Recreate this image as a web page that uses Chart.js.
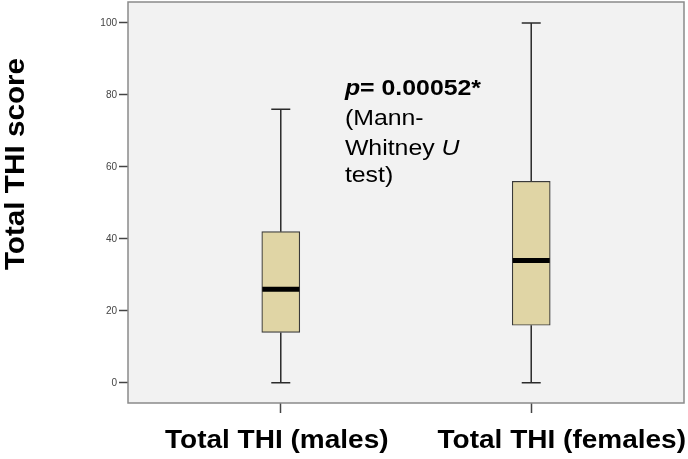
<!doctype html>
<html lang="en">
  <head>
    <meta charset="utf-8">
    <title>Total THI score</title>
    <style>
      * { margin: 0; padding: 0; }
      body { background: #fff; }
      .chartBox { width: 688px; height: 459px; }
    </style>
  </head>
  <body>
    <div class="chartBox">
      <canvas id="myChart"></canvas>
    </div>
    <script src="https://cdn.jsdelivr.net/npm/chart.js/dist/chart.umd.min.js"></script>
    <script>
    // data
    const categories = ['Total THI (males)', 'Total THI (females)'];
    const catPos = [0, 1];
    const mins = [0, 0];
    const q1s = [14, 16];
    const medians = [26, 34];
    const q3s = [42, 56];
    const maxes = [76, 100];
    const yTicks = [0, 20, 40, 60, 80, 100];

    const FONT = "'Liberation Sans', Arial, sans-serif";

    // text drawn a bit wider, like the source image
    const stretchText = (ctx, text, x, y, sx) => {
      ctx.save();
      ctx.translate(x, y);
      ctx.scale(sx, 1);
      ctx.fillText(text, 0, 0);
      ctx.restore();
      return ctx.measureText(text).width * sx;
    };

    const boxExtras = {
      id: 'boxExtras',
      beforeDraw: (chart) => {
        const { ctx, chartArea: a } = chart;
        ctx.save();
        ctx.fillStyle = '#f2f2f2';
        ctx.fillRect(a.left, a.top, a.right - a.left, a.bottom - a.top);
        ctx.restore();
      },
      beforeDatasetsDraw: (chart) => {
        const { ctx, scales: { x, y } } = chart;
        ctx.save();
        ctx.strokeStyle = '#2b2b2b';
        ctx.lineWidth = 1.5;
        catPos.forEach((c, i) => {
          const px = x.getPixelForValue(c);
          // whiskers
          ctx.beginPath();
          ctx.moveTo(px, y.getPixelForValue(mins[i]));
          ctx.lineTo(px, y.getPixelForValue(q1s[i]));
          ctx.moveTo(px, y.getPixelForValue(q3s[i]));
          ctx.lineTo(px, y.getPixelForValue(maxes[i]));
          ctx.stroke();
          // caps
          ctx.beginPath();
          [mins[i], maxes[i]].forEach(v => {
            const py = y.getPixelForValue(v);
            ctx.moveTo(px - 9.5, py);
            ctx.lineTo(px + 9.5, py);
          });
          ctx.stroke();
        });
        ctx.restore();
      },
      afterDatasetsDraw: (chart) => {
        const { ctx, scales: { x, y } } = chart;
        ctx.save();
        ctx.strokeStyle = '#000';
        ctx.lineWidth = 5;
        catPos.forEach((c, i) => {
          const px = x.getPixelForValue(c);
          const py = y.getPixelForValue(medians[i]);
          ctx.beginPath();
          ctx.moveTo(px - 18.5, py);
          ctx.lineTo(px + 18.5, py);
          ctx.stroke();
        });
        ctx.restore();
      },
      afterDraw: (chart) => {
        const { ctx, chartArea: a, scales: { x, y } } = chart;
        ctx.save();
        // frame
        ctx.strokeStyle = '#8a8a8a';
        ctx.lineWidth = 1.5;
        ctx.strokeRect(a.left, a.top, a.right - a.left, a.bottom - a.top);

        // category labels
        ctx.fillStyle = '#000';
        ctx.font = `bold 25px ${FONT}`;
        ctx.textBaseline = 'alphabetic';
        ctx.textAlign = 'center';
        stretchText(ctx, categories[0], x.getPixelForValue(catPos[0]) - 4, 448, 1.12);
        ctx.textAlign = 'right';
        stretchText(ctx, categories[1], a.right + 2, 448, 1.12);

        // y title
        ctx.save();
        ctx.translate(24, 164);
        ctx.rotate(-Math.PI / 2);
        ctx.textAlign = 'center';
        ctx.font = `bold 28px ${FONT}`;
        stretchText(ctx, 'Total THI score', 0, 0, 1.06);
        ctx.restore();

        // annotation
        const sx = 1.13;
        const ax = x.getPixelForValue(0.256);
        const ay = y.getPixelForValue(80) + 0.5;
        ctx.textAlign = 'left';
        ctx.font = `italic bold 22px ${FONT}`;
        let w = stretchText(ctx, 'p', ax, ay, sx);
        ctx.font = `bold 22px ${FONT}`;
        stretchText(ctx, '= 0.00052*', ax + w, ay, sx);
        ctx.font = `22px ${FONT}`;
        stretchText(ctx, '(Mann-', ax, ay + 30, sx);
        w = stretchText(ctx, 'Whitney ', ax, ay + 60, sx);
        ctx.font = `italic 22px ${FONT}`;
        stretchText(ctx, 'U', ax + w, ay + 60, sx);
        ctx.font = `22px ${FONT}`;
        stretchText(ctx, 'test)', ax, ay + 87, sx);
        ctx.restore();
      }
    };

    const config = {
      type: 'bar',
      data: {
        datasets: [{
          data: catPos.map((c, i) => ({ x: c, y: [q1s[i], q3s[i]] })),
          backgroundColor: '#e0d5a5',
          borderColor: '#3a3a3a',
          borderWidth: 1.2,
          borderSkipped: false,
          barThickness: 38
        }]
      },
      options: {
        responsive: true,
        maintainAspectRatio: false,
        animation: false,
        layout: { padding: { top: 2, right: 4, left: 0, bottom: 0 } },
        scales: {
          x: {
            type: 'linear',
            offset: false,
            min: -0.61,
            max: 1.61,
            afterBuildTicks: (scale) => { scale.ticks = catPos.map(v => ({ value: v })); },
            afterFit: (scale) => {
              scale.height = 56;
              scale.paddingLeft = 0;
              scale.paddingRight = 0;
            },
            ticks: { display: false },
            border: { display: false },
            grid: { offset: false, drawOnChartArea: false, tickLength: 10, tickColor: '#444', tickWidth: 1.5 }
          },
          y: {
            min: -5.6,
            max: 105.8,
            afterBuildTicks: (scale) => { scale.ticks = yTicks.map(v => ({ value: v })); },
            afterFit: (scale) => {
              scale.width = 128;
              scale.paddingTop = 0;
              scale.paddingBottom = 0;
            },
            ticks: {
              padding: 2,
              color: '#444',
              font: { family: FONT, size: 10 }
            },
            border: { display: false },
            grid: { drawOnChartArea: false, tickLength: 9, tickColor: '#444', tickWidth: 1.5 }
          }
        },
        plugins: {
          legend: { display: false },
          tooltip: { enabled: false }
        }
      },
      plugins: [boxExtras]
    };

    const myChart = new Chart(document.getElementById('myChart'), config);
    </script>
  </body>
</html>
